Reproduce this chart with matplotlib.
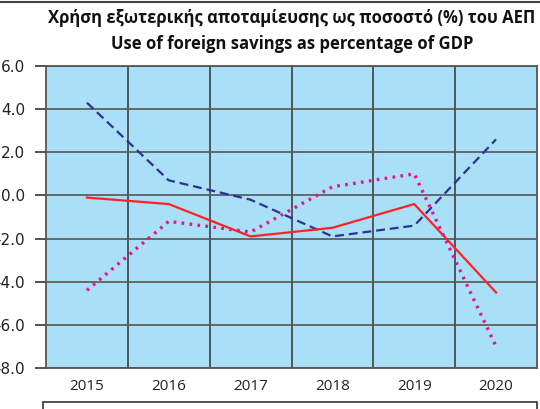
import numpy as np
import matplotlib
matplotlib.use('Agg')
import matplotlib.pyplot as plt
from matplotlib.lines import Line2D
from matplotlib.patches import Rectangle

# data
years = ['2015', '2016', '2017', '2018', '2019', '2020']
private = [4.3, 0.7, -0.2, -1.9, -1.4, 2.6]
total = [-0.1, -0.4, -1.9, -1.5, -0.4, -4.5]
public = [-4.4, -1.2, -1.7, 0.4, 1.0, -7.0]
yticks = [6.0, 4.0, 2.0, 0.0, -2.0, -4.0, -6.0, -8.0]

title = 'Χρήση εξωτερικής αποταμίευσης ως ποσοστό (%) του ΑΕΠ\nUse of foreign savings as percentage of GDP'
labels = ['Ιδιωτικός τομέας / Private sector',
          'Σύνολο οικονομίας / Total economy',
          'Δημόσιος τομέας / Public sector']

W, H = 540, 409
fig = plt.figure(figsize=(W / 100, H / 100), dpi=100)
ax = fig.add_axes([46 / W, 1 - 368 / H, (537 - 46) / W, (368 - 66) / H])
ax.set_facecolor('#aadff8')

x = np.arange(len(years))
l1, = ax.plot(x, private, color='#2e3192', lw=1.6, dashes=(4, 2.2), zorder=3)
l2, = ax.plot(x, total, color='#ff2222', lw=1.6, zorder=3)
l3, = ax.plot(x, public, color='#e6158c', lw=2.4, linestyle=(0, (0.8, 1.6)),
              dash_capstyle='butt', zorder=3)

ax.set_xlim(-0.5, len(years) - 0.5)
ax.set_ylim(-8, 6)
ax.set_yticks(yticks)
ax.set_yticklabels(['%.1f' % v for v in yticks], fontsize=11, family='DejaVu Sans', color='#222222')
ax.tick_params(axis='y', length=8, width=1.3, color='#444444', pad=7)

ax.set_xticks(x)
ax.set_xticklabels(years, fontsize=11, family=['Open Sans', 'DejaVu Sans'], color='#222222')
ax.set_xticks(x[:-1] + 0.5, minor=True)
ax.tick_params(axis='x', which='both', length=0, pad=8)

ax.grid(axis='y', color='#555555', lw=1.2)
ax.grid(axis='x', which='minor', color='#333333', lw=1.1)
ax.set_axisbelow(True)
for s in ax.spines.values():
    s.set_color('#555555')
    s.set_linewidth(1.3)

fig.text(0.5 + 22 / W, 1 - 31 / H, title, ha='center', va='center', fontsize=12,
         fontweight='bold', family=['Open Sans', 'DejaVu Sans'], color='#111111',
         linespacing=1.55)

# top frame line
fig.add_artist(Line2D([0, 1], [1 - 1.5 / H, 1 - 1.5 / H], transform=fig.transFigure,
                      color='#444444', lw=1.5))

# legend box (cut off at the bottom edge)
fig.add_artist(Rectangle((43 / W, -30 / H), (537 - 43) / W, (30 + 7) / H,
                         transform=fig.transFigure, fill=False, ec='#333333', lw=1.2))
fig.legend([l1, l2, l3], labels, loc='upper left', ncol=3, frameon=False,
           bbox_to_anchor=(60 / W, 1 - 398 / H),
           prop={'family': ['Open Sans', 'DejaVu Sans'], 'size': 9},
           handlelength=2.5, columnspacing=1.0)

fig.savefig('out.png', dpi=100)
